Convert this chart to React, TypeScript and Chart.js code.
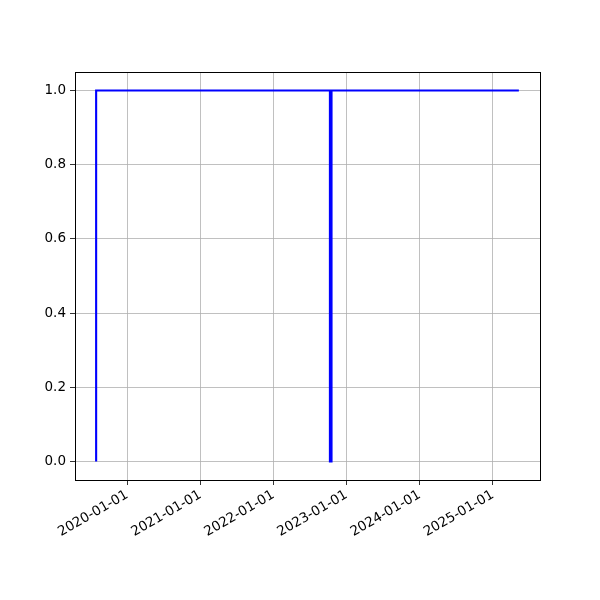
import React, { useEffect, useRef } from "react";
import { Chart, registerables } from "chart.js";

Chart.register(...registerables);

// Dates of the step changes and values
const dates: string[] = ["2019-07-30", "2019-07-30", "2022-10-10", "2022-10-10", "2022-10-18", "2022-10-18", "2025-05-11"];
const values: number[] = [0, 1, 1, 0, 0, 1, 1];
const tickYears: number[] = [2020, 2021, 2022, 2023, 2024, 2025];
const yTicks: number[] = [0, 0.2, 0.4, 0.6, 0.8, 1.0];

const ts = (d: string) => Date.parse(d + "T00:00:00Z");

export default function App() {
  const ref = useRef<HTMLCanvasElement>(null);
  useEffect(() => {
    if (!ref.current) return;
    const xs = dates.map(ts);
    const xmin0 = Math.min(...xs);
    const xmax0 = Math.max(...xs);
    const pad = (xmax0 - xmin0) * 0.05;
    const font = { family: "DejaVu Sans", size: 13.5 };
    const frame = {
      id: "frame",
      afterDraw(chart: any) {
        const { ctx, chartArea: a } = chart;
        ctx.save();
        ctx.strokeStyle = "#000";
        ctx.lineWidth = 1;
        ctx.strokeRect(Math.round(a.left) + 0.5, Math.round(a.top) + 0.5, Math.round(a.right - a.left), Math.round(a.bottom - a.top));
        ctx.restore();
      },
    };
    const chart = new Chart(ref.current, {
      type: "line",
      data: {
        datasets: [
          {
            data: xs.map((x, i) => ({ x, y: values[i] })),
            borderColor: "#0000ff",
            borderWidth: 2.1,
            pointRadius: 0,
            tension: 0,
            fill: false,
          },
        ],
      },
      options: {
        animation: false,
        responsive: false,
        maintainAspectRatio: false,
        layout: { padding: { left: 0, top: 72, right: 60, bottom: 0 } },
        plugins: { legend: { display: false }, tooltip: { enabled: false } },
        scales: {
          x: {
            type: "linear",
            min: xmin0 - pad,
            max: xmax0 + pad,
            afterFit(scale: any) {
              scale.height = 120;
            },
            afterBuildTicks(scale: any) {
              scale.ticks = tickYears.map((y) => ({ value: Date.UTC(y, 0, 1) }));
            },
            ticks: {
              color: "#000",
              font,
              minRotation: 30,
              maxRotation: 30,
              autoSkip: false,
              padding: 2,
              callback: (v: any) => new Date(Number(v)).toISOString().slice(0, 10),
            },
            grid: { color: "#b0b0b0", lineWidth: 0.8, tickColor: "#000", tickLength: 5, drawTicks: true },
            border: { display: true, color: "#000" },
          },
          y: {
            type: "linear",
            min: -0.05,
            max: 1.05,
            afterFit(scale: any) {
              scale.width = 75;
            },
            afterBuildTicks(scale: any) {
              scale.ticks = yTicks.map((v) => ({ value: v }));
            },
            ticks: {
              color: "#000",
              font,
              padding: 4,
              callback: (v: any) => Number(v).toFixed(1),
            },
            grid: { color: "#b0b0b0", lineWidth: 0.8, tickColor: "#000", tickLength: 5 },
            border: { display: true, color: "#000" },
          },
        },
      },
      plugins: [frame],
    });
    return () => chart.destroy();
  }, []);
  return (
    <div style={{ position: "fixed", left: 0, top: 0, width: 600, height: 600, background: "#fff" }}>
      <canvas ref={ref} width={600} height={600} style={{ width: 600, height: 600 }} />
    </div>
  );
}
